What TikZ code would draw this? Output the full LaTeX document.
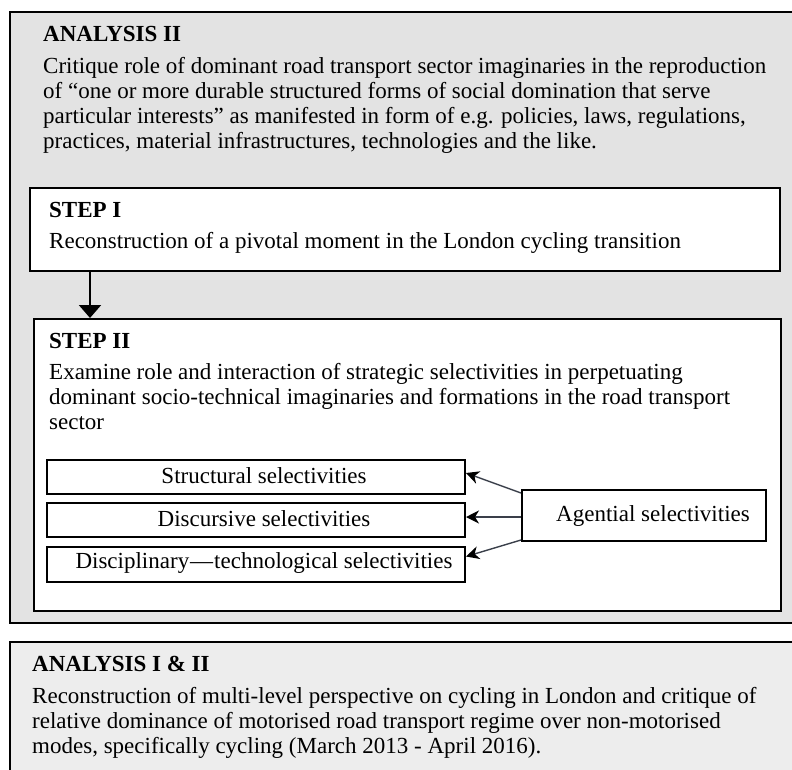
\documentclass[tikz,border=0pt]{standalone}
\usepackage{fontspec}
\setmainfont{Liberation Serif}
\usetikzlibrary{arrows.meta}
\definecolor{panelgray}{HTML}{E3E3E3}
\definecolor{summarygray}{HTML}{EDEDED}
\definecolor{linkgray}{HTML}{3A3F4A}
\newcommand{\bodyfont}{\fontsize{23}{25}\selectfont}
\begin{document}
\begin{tikzpicture}[x=1pt,y=-1pt,
  % multi-line text: anchored at its top, first baseline 17.5pt below
  txt/.style={font=\bodyfont, inner sep=0pt, align=left, anchor=north west},
  head/.style={font=\bodyfont\bfseries, inner sep=0pt, anchor=base west},
  label/.style={font=\bodyfont, inner sep=0pt},
  panel/.style={draw=black, line width=2pt, fill=panelgray},
  stepbox/.style={draw=black, line width=2pt, fill=white, inner sep=0pt, anchor=north west},
  selbox/.style={draw=black, line width=2pt, fill=white, inner sep=0pt, anchor=north west},
  link/.style={draw=linkgray, line width=1.4pt, -{Stealth[length=13pt,width=13pt,inset=4pt,color=black]}},
  flow/.style={draw=black, line width=2pt, -{Triangle[length=13pt,width=22pt]}}
]
\useasboundingbox (0,0) rectangle (792,770);
\fill[white] (0,0) rectangle (792,770);

% outer panel: Analysis II
\draw[panel] (10,12) rectangle (800,623);
\node[head] (a2head) at (43,42) {ANALYSIS II};
\node[txt] (a2text) at (43,55.5) {\strut Critique role of dominant road transport sector imaginaries in the reproduction\\
of “one or more durable structured forms of social domination that serve\\
particular interests” as manifested in form of e.g. policies, laws, regulations,\\
practices, material infrastructures, technologies and the like.};

% step I
\node[stepbox, minimum width=750pt, minimum height=83pt] (step1) at (29,187) {};
\node[head] (s1head) at (49,218) {STEP I};
\node[head, font=\bodyfont] (s1text) at (49,248) {Reconstruction of a pivotal moment in the London cycling transition};

% step II
\node[stepbox, minimum width=747pt, minimum height=292pt] (step2) at (33,318) {};
\node[head] (s2head) at (49,348) {STEP II};
\node[txt] (s2text) at (49,361.5) {\strut Examine role and interaction of strategic selectivities in perpetuating\\
dominant socio-technical imaginaries and formations in the road transport\\
sector};

\coordinate (fx) at (90,0);
\draw[flow] (fx |- step1.south) -- (fx |- step2.north);

% selectivities
\node[selbox, minimum width=418pt, minimum height=34pt] (struct) at (46,459) {};
\node[selbox, minimum width=418pt, minimum height=34pt] (discur) at (46,502) {};
\node[selbox, minimum width=418pt, minimum height=35pt] (discip) at (46,546) {};
\node[selbox, minimum width=244pt, minimum height=51pt] (agent) at (521,489) {};

\node[label] (structT) at (264,476) {Structural selectivities};
\node[label] (discurT) at (264,519) {Discursive selectivities};
\node[label] (discipT) at (264,563) {Disciplinary\kern1pt—\kern1pt technological selectivities};
\node[label] (agentT) at (653,516) {Agential selectivities};

\draw[link] ([yshift=-4pt]agent.north west) -- ([yshift=4pt]struct.east);
\draw[link] ([yshift=-1.5pt]agent.west) -- ([yshift=3pt]discur.east);
\draw[link] ([yshift=2pt]agent.south west) -- ([yshift=8pt]discip.east);

% summary panel: Analysis I & II
\draw[draw=black, line width=2pt, fill=summarygray] (10,642) rectangle (800,780);
\node[head] (a12head) at (32,671) {ANALYSIS I \& II};
\node[txt] (a12text) at (32,685.5) {\strut Reconstruction of multi-level perspective on cycling in London and critique of\\
relative dominance of motorised road transport regime over non-motorised\\
modes, specifically cycling (March 2013 - April 2016).};
\end{tikzpicture}
\end{document}
